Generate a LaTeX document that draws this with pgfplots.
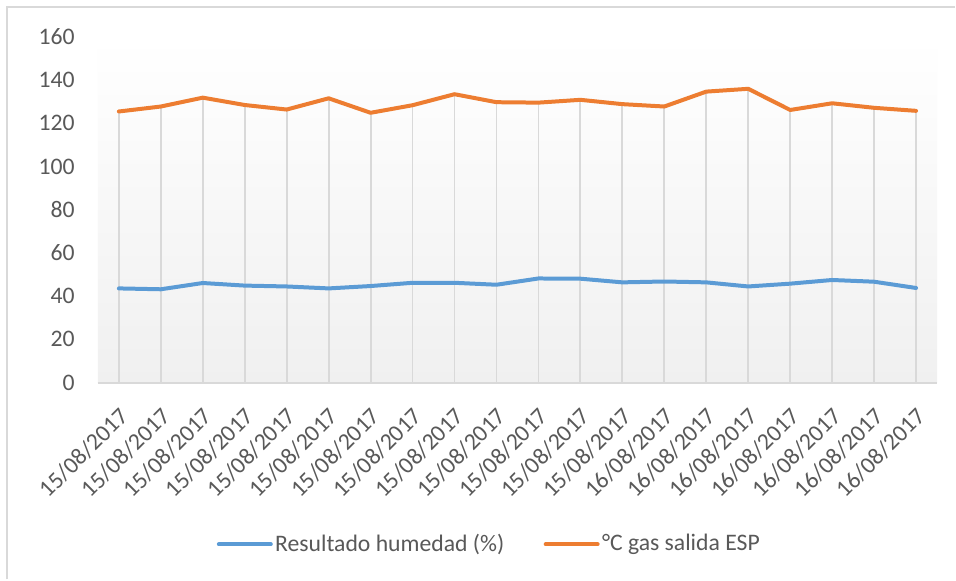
\documentclass[border=0pt]{standalone}
\usepackage{pgfplots}
\pgfplotsset{compat=1.18}
\usepackage{fontspec}
\setmainfont{Carlito}
\definecolor{cblue}{HTML}{5B9BD5}
\definecolor{corange}{HTML}{ED7D31}
\definecolor{cgrid}{HTML}{D9D9D9}
\definecolor{ctext}{HTML}{595959}
\definecolor{cbg}{HTML}{F0F0F0}
\begin{document}
\begin{tikzpicture}
\fontsize{11.9pt}{14pt}\selectfont
\path[fill=white] (0,0) rectangle (478bp,290bp);
\draw[cgrid, line width=1bp] (3.5bp,0) -- (3.5bp,286.5bp) -- (478bp,286.5bp);
\begin{axis}[
  at={(49bp,98.5bp)}, anchor=south west,
  scale only axis, width=420bp, height=173bp,
  xmin=0.5, xmax=20.5, ymin=0, ymax=160,
  ytick={0,20,...,160},
  xtick={1,...,20},
  xticklabels={15/08/2017,15/08/2017,15/08/2017,15/08/2017,15/08/2017,15/08/2017,15/08/2017,15/08/2017,15/08/2017,15/08/2017,15/08/2017,15/08/2017,15/08/2017,16/08/2017,16/08/2017,16/08/2017,16/08/2017,16/08/2017,16/08/2017,16/08/2017},
  axis lines*=left,
  axis line style={-},
  x axis line style={cgrid, line width=1bp},
  y axis line style={draw=none},
  tick style={draw=none},
  major tick length=0pt,
  /pgf/number format/assume math mode=true,
  ticklabel style={text=ctext, font=\fontsize{11.9pt}{14pt}\selectfont},
  yticklabel style={anchor=east, inner sep=0pt, xshift=-11.5bp},
  xticklabel style={rotate=45, anchor=east, inner sep=0pt, xshift=3.9bp},
  xticklabel shift=17.5bp,
  axis background/.style={shade, top color=white, bottom color=cbg},
  clip=false,
  legend columns=2,
  legend style={at={(0.4667,-0.468)}, anchor=center, draw=none, fill=none,
    font=\fontsize{11.9pt}{14pt}\selectfont, text=ctext,
    /tikz/every even column/.append style={column sep=18.5bp},
    nodes={inner sep=1.2bp}},
  legend image code/.code={\draw[#1] (0bp,0bp) -- (26bp,0bp);},
]
\addplot[ycomb, cgrid, line width=0.9bp, forget plot] coordinates {
(1,125.5) (2,127.8) (3,131.9) (4,128.5) (5,126.4) (6,131.6) (7,124.9) (8,128.4) (9,133.5) (10,129.8)
(11,129.6) (12,130.9) (13,128.9) (14,127.8) (15,134.7) (16,136.0) (17,126.2) (18,129.3) (19,127.2) (20,125.8)};
\addplot[cblue, line width=2bp, line join=round, line cap=round] coordinates {
(1,43.6) (2,43.2) (3,46.1) (4,44.9) (5,44.5) (6,43.6) (7,44.7) (8,46.2) (9,46.2) (10,45.3)
(11,48.2) (12,48.1) (13,46.4) (14,46.8) (15,46.4) (16,44.5) (17,45.8) (18,47.5) (19,46.7) (20,43.8)};
\addlegendentry{Resultado humedad (\%)}
\addplot[corange, line width=2bp, line join=round, line cap=round] coordinates {
(1,125.5) (2,127.8) (3,131.9) (4,128.5) (5,126.4) (6,131.6) (7,124.9) (8,128.4) (9,133.5) (10,129.8)
(11,129.6) (12,130.9) (13,128.9) (14,127.8) (15,134.7) (16,136.0) (17,126.2) (18,129.3) (19,127.2) (20,125.8)};
\addlegendentry{°C gas salida ESP}
\end{axis}
\end{tikzpicture}
\end{document}
